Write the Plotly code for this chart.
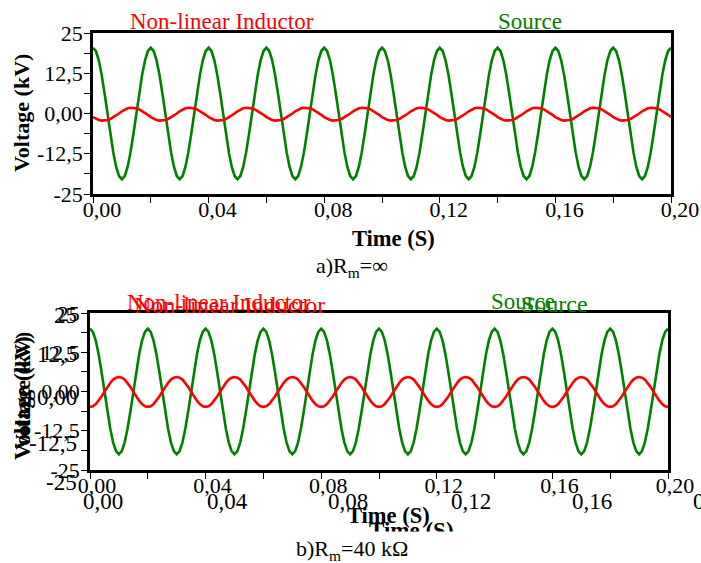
import plotly.graph_objects as go

# ---------------- data ----------------
time_s = [i / 1000 for i in range(201)]  # sample instants 0 .. 0.200 s (1 ms step)

# a) Rm = infinity
source_a = [
    20.4, 19.4, 16.5, 12.0, 6.3, 0.0, -6.3, -12.0, -16.5, -19.4, -20.4, -19.4, -16.5, -12.0, -6.3, 0.0, 6.3, 12.0, 16.5, 19.4,
    20.4, 19.4, 16.5, 12.0, 6.3, 0.0, -6.3, -12.0, -16.5, -19.4, -20.4, -19.4, -16.5, -12.0, -6.3, 0.0, 6.3, 12.0, 16.5, 19.4,
    20.4, 19.4, 16.5, 12.0, 6.3, 0.0, -6.3, -12.0, -16.5, -19.4, -20.4, -19.4, -16.5, -12.0, -6.3, 0.0, 6.3, 12.0, 16.5, 19.4,
    20.4, 19.4, 16.5, 12.0, 6.3, 0.0, -6.3, -12.0, -16.5, -19.4, -20.4, -19.4, -16.5, -12.0, -6.3, 0.0, 6.3, 12.0, 16.5, 19.4,
    20.4, 19.4, 16.5, 12.0, 6.3, 0.0, -6.3, -12.0, -16.5, -19.4, -20.4, -19.4, -16.5, -12.0, -6.3, 0.0, 6.3, 12.0, 16.5, 19.4,
    20.4, 19.4, 16.5, 12.0, 6.3, 0.0, -6.3, -12.0, -16.5, -19.4, -20.4, -19.4, -16.5, -12.0, -6.3, 0.0, 6.3, 12.0, 16.5, 19.4,
    20.4, 19.4, 16.5, 12.0, 6.3, 0.0, -6.3, -12.0, -16.5, -19.4, -20.4, -19.4, -16.5, -12.0, -6.3, 0.0, 6.3, 12.0, 16.5, 19.4,
    20.4, 19.4, 16.5, 12.0, 6.3, 0.0, -6.3, -12.0, -16.5, -19.4, -20.4, -19.4, -16.5, -12.0, -6.3, 0.0, 6.3, 12.0, 16.5, 19.4,
    20.4, 19.4, 16.5, 12.0, 6.3, 0.0, -6.3, -12.0, -16.5, -19.4, -20.4, -19.4, -16.5, -12.0, -6.3, 0.0, 6.3, 12.0, 16.5, 19.4,
    20.4, 19.4, 16.5, 12.0, 6.3, 0.0, -6.3, -12.0, -16.5, -19.4, -20.4, -19.4, -16.5, -12.0, -6.3, 0.0, 6.3, 12.0, 16.5, 19.4,
    20.4,
]
inductor_a = [
    -1.1, -1.6, -2.0, -2.2, -2.2, -2.0, -1.7, -1.2, -0.6, 0.0, 0.7, 1.2, 1.6, 1.8, 1.8, 1.6, 1.3, 0.8, 0.2, -0.4,
    -1.1, -1.6, -2.0, -2.2, -2.2, -2.0, -1.7, -1.2, -0.6, 0.0, 0.7, 1.2, 1.6, 1.8, 1.8, 1.6, 1.3, 0.8, 0.2, -0.4,
    -1.1, -1.6, -2.0, -2.2, -2.2, -2.0, -1.7, -1.2, -0.6, 0.0, 0.7, 1.2, 1.6, 1.8, 1.8, 1.6, 1.3, 0.8, 0.2, -0.4,
    -1.1, -1.6, -2.0, -2.2, -2.2, -2.0, -1.7, -1.2, -0.6, 0.0, 0.7, 1.2, 1.6, 1.8, 1.8, 1.6, 1.3, 0.8, 0.2, -0.4,
    -1.1, -1.6, -2.0, -2.2, -2.2, -2.0, -1.7, -1.2, -0.6, 0.0, 0.7, 1.2, 1.6, 1.8, 1.8, 1.6, 1.3, 0.8, 0.2, -0.4,
    -1.1, -1.6, -2.0, -2.2, -2.2, -2.0, -1.7, -1.2, -0.6, 0.0, 0.7, 1.2, 1.6, 1.8, 1.8, 1.6, 1.3, 0.8, 0.2, -0.4,
    -1.1, -1.6, -2.0, -2.2, -2.2, -2.0, -1.7, -1.2, -0.6, 0.0, 0.7, 1.2, 1.6, 1.8, 1.8, 1.6, 1.3, 0.8, 0.2, -0.4,
    -1.1, -1.6, -2.0, -2.2, -2.2, -2.0, -1.7, -1.2, -0.6, 0.0, 0.7, 1.2, 1.6, 1.8, 1.8, 1.6, 1.3, 0.8, 0.2, -0.4,
    -1.1, -1.6, -2.0, -2.2, -2.2, -2.0, -1.7, -1.2, -0.6, 0.0, 0.7, 1.2, 1.6, 1.8, 1.8, 1.6, 1.3, 0.8, 0.2, -0.4,
    -1.1, -1.6, -2.0, -2.2, -2.2, -2.0, -1.7, -1.2, -0.6, 0.0, 0.7, 1.2, 1.6, 1.8, 1.8, 1.6, 1.3, 0.8, 0.2, -0.4,
    -1.1,
]

# b) Rm = 40 kOhm
source_b = [
    20.0, 19.0, 16.2, 11.8, 6.2, 0.0, -6.2, -11.8, -16.2, -19.0, -20.0, -19.0, -16.2, -11.8, -6.2, 0.0, 6.2, 11.8, 16.2, 19.0,
    20.0, 19.0, 16.2, 11.8, 6.2, 0.0, -6.2, -11.8, -16.2, -19.0, -20.0, -19.0, -16.2, -11.8, -6.2, 0.0, 6.2, 11.8, 16.2, 19.0,
    20.0, 19.0, 16.2, 11.8, 6.2, 0.0, -6.2, -11.8, -16.2, -19.0, -20.0, -19.0, -16.2, -11.8, -6.2, 0.0, 6.2, 11.8, 16.2, 19.0,
    20.0, 19.0, 16.2, 11.8, 6.2, 0.0, -6.2, -11.8, -16.2, -19.0, -20.0, -19.0, -16.2, -11.8, -6.2, 0.0, 6.2, 11.8, 16.2, 19.0,
    20.0, 19.0, 16.2, 11.8, 6.2, 0.0, -6.2, -11.8, -16.2, -19.0, -20.0, -19.0, -16.2, -11.8, -6.2, 0.0, 6.2, 11.8, 16.2, 19.0,
    20.0, 19.0, 16.2, 11.8, 6.2, 0.0, -6.2, -11.8, -16.2, -19.0, -20.0, -19.0, -16.2, -11.8, -6.2, 0.0, 6.2, 11.8, 16.2, 19.0,
    20.0, 19.0, 16.2, 11.8, 6.2, 0.0, -6.2, -11.8, -16.2, -19.0, -20.0, -19.0, -16.2, -11.8, -6.2, 0.0, 6.2, 11.8, 16.2, 19.0,
    20.0, 19.0, 16.2, 11.8, 6.2, 0.0, -6.2, -11.8, -16.2, -19.0, -20.0, -19.0, -16.2, -11.8, -6.2, 0.0, 6.2, 11.8, 16.2, 19.0,
    20.0, 19.0, 16.2, 11.8, 6.2, 0.0, -6.2, -11.8, -16.2, -19.0, -20.0, -19.0, -16.2, -11.8, -6.2, 0.0, 6.2, 11.8, 16.2, 19.0,
    20.0, 19.0, 16.2, 11.8, 6.2, 0.0, -6.2, -11.8, -16.2, -19.0, -20.0, -19.0, -16.2, -11.8, -6.2, 0.0, 6.2, 11.8, 16.2, 19.0,
    20.0,
]
inductor_b = [
    -4.9, -4.7, -4.0, -2.9, -1.6, -0.1, 1.4, 2.7, 3.8, 4.4, 4.6, 4.4, 3.8, 2.7, 1.4, -0.1, -1.6, -2.9, -4.0, -4.7,
    -4.9, -4.7, -4.0, -2.9, -1.6, -0.1, 1.4, 2.7, 3.8, 4.4, 4.6, 4.4, 3.8, 2.7, 1.4, -0.1, -1.6, -2.9, -4.0, -4.7,
    -4.9, -4.7, -4.0, -2.9, -1.6, -0.1, 1.4, 2.7, 3.8, 4.4, 4.6, 4.4, 3.8, 2.7, 1.4, -0.1, -1.6, -2.9, -4.0, -4.7,
    -4.9, -4.7, -4.0, -2.9, -1.6, -0.1, 1.4, 2.7, 3.8, 4.4, 4.6, 4.4, 3.8, 2.7, 1.4, -0.1, -1.6, -2.9, -4.0, -4.7,
    -4.9, -4.7, -4.0, -2.9, -1.6, -0.1, 1.4, 2.7, 3.8, 4.4, 4.6, 4.4, 3.8, 2.7, 1.4, -0.1, -1.6, -2.9, -4.0, -4.7,
    -4.9, -4.7, -4.0, -2.9, -1.6, -0.1, 1.4, 2.7, 3.8, 4.4, 4.6, 4.4, 3.8, 2.7, 1.4, -0.1, -1.6, -2.9, -4.0, -4.7,
    -4.9, -4.7, -4.0, -2.9, -1.6, -0.1, 1.4, 2.7, 3.8, 4.4, 4.6, 4.4, 3.8, 2.7, 1.4, -0.1, -1.6, -2.9, -4.0, -4.7,
    -4.9, -4.7, -4.0, -2.9, -1.6, -0.1, 1.4, 2.7, 3.8, 4.4, 4.6, 4.4, 3.8, 2.7, 1.4, -0.1, -1.6, -2.9, -4.0, -4.7,
    -4.9, -4.7, -4.0, -2.9, -1.6, -0.1, 1.4, 2.7, 3.8, 4.4, 4.6, 4.4, 3.8, 2.7, 1.4, -0.1, -1.6, -2.9, -4.0, -4.7,
    -4.9, -4.7, -4.0, -2.9, -1.6, -0.1, 1.4, 2.7, 3.8, 4.4, 4.6, 4.4, 3.8, 2.7, 1.4, -0.1, -1.6, -2.9, -4.0, -4.7,
    -4.9,
]

x_tickvals = [0.0, 0.04, 0.08, 0.12, 0.16, 0.20]
x_ticktext = ["0,00", "0,04", "0,08", "0,12", "0,16", "0,20"]
y_tickvals = [25, 12.5, 0, -12.5, -25]
y_ticktext = ["25", "12,5", "0,00", "-12,5", "-25"]

series_names = ["Non-linear Inductor", "Source"]
x_title = "Time (S)"
y_title = "Voltage (kV)"
captions = ["a)R<sub>m</sub>=∞", "b)R<sub>m</sub>=40 kΩ"]

# ---------------- styling ----------------
W, H = 701, 563
FONT = "Liberation Serif"
GREEN = "#008000"
RED = "#ff0000"


def px(xp):
    return xp / W


def py(yp):
    return 1 - yp / H


fig = go.Figure()

fig.add_trace(go.Scatter(x=time_s, y=source_a, mode="lines", line=dict(color=GREEN, width=2.6),
                         xaxis="x", yaxis="y", showlegend=False))
fig.add_trace(go.Scatter(x=time_s, y=inductor_a, mode="lines", line=dict(color=RED, width=2.6),
                         xaxis="x", yaxis="y", showlegend=False))
fig.add_trace(go.Scatter(x=time_s, y=source_b, mode="lines", line=dict(color=GREEN, width=2.6),
                         xaxis="x2", yaxis="y2", showlegend=False))
fig.add_trace(go.Scatter(x=time_s, y=inductor_b, mode="lines", line=dict(color=RED, width=2.6),
                         xaxis="x2", yaxis="y2", showlegend=False))

axis_common = dict(showline=True, linecolor="black", linewidth=2.6, mirror=True,
                   showgrid=False, zeroline=False, ticks="outside", ticklen=6,
                   tickwidth=1.3, tickcolor="black", automargin=False,
                   tickfont=dict(family=FONT, size=22, color="black"))

xcommon = dict(axis_common, range=[0, 0.2], tickvals=x_tickvals, ticktext=x_ticktext,
               minor=dict(dtick=0.02, tick0=0, ticks="outside", ticklen=6, tickwidth=1.3, tickcolor="black"),
               ticklabelstandoff=-12)
ycommon = dict(axis_common, range=[-25, 25], tickvals=y_tickvals, ticktext=y_ticktext,
               minor=dict(dtick=6.25, tick0=0, ticks="outside", ticklen=6, tickwidth=1.3, tickcolor="black"),
               ticklabelstandoff=-3)

fig.update_layout(
    width=W, height=H, autosize=False,
    margin=dict(l=0, r=0, t=0, b=0, pad=0, autoexpand=False),
    paper_bgcolor="white", plot_bgcolor="white",
    font=dict(family=FONT, size=22, color="black"),
    xaxis=dict(xcommon, domain=[px(93), px(671)], anchor="y", ticklabelshift=9),
    yaxis=dict(ycommon, domain=[py(194), py(33)], anchor="x"),
    xaxis2=dict(xcommon, domain=[px(90), px(668)], anchor="y2", ticklabelshift=7),
    yaxis2=dict(ycommon, domain=[py(470), py(313)], anchor="x2"),
)

ann = []


def text(t, x, y, size=23, color="black", bold=False, angle=0, xanchor="center"):
    if bold:
        t = "<b>" + t + "</b>"
    ann.append(dict(text=t, x=px(x), y=py(y), xref="paper", yref="paper", showarrow=False,
                    xanchor=xanchor, yanchor="middle", textangle=angle,
                    font=dict(family=FONT, size=size, color=color)))


# ---- panel a
text(series_names[0], 222, 21, color=RED)
text(series_names[1], 530, 21, color=GREEN)
text(y_title, 22, 113, size=22, bold=True, angle=-90)
text(x_title, 393, 238, size=22.5, bold=True)
text(captions[0], 352, 267, size=22)

# ---- panel b : ghost (slightly shifted/scaled copy of labels)
GT = 24
GK = 23
text(series_names[0], 229, 305, size=GT, color=RED)
text(series_names[1], 554, 304, size=GT, color=GREEN)
text(y_title, 22, 398, size=GK, bold=True, angle=-90)
for v, lab in zip([315, 355, 397, 443, 482], y_ticktext):
    text(lab, 79, v, size=GK, xanchor="right")
for xc, lab in zip([103, 227, 348, 471, 592, 713], x_ticktext):
    text(lab, xc, 501, size=GK)
text(x_title, 411, 530, size=GK, bold=True)
# mask that crops the lower half of the ghost axis title
ann.append(dict(text=" ", x=px(411), y=py(547), xref="paper", yref="paper", showarrow=False,
                xanchor="center", yanchor="middle", width=110, height=28, bgcolor="white",
                font=dict(family=FONT, size=10)))

# ---- panel b : main labels
text(series_names[0], 219, 302, color=RED)
text(series_names[1], 523, 301, color=GREEN)
text(y_title, 22, 391, size=22, bold=True, angle=-90)
text(x_title, 388, 515, size=22.5, bold=True)
text(captions[1], 352, 550, size=22)

fig.update_layout(annotations=ann)

fig.write_html("out.html")
